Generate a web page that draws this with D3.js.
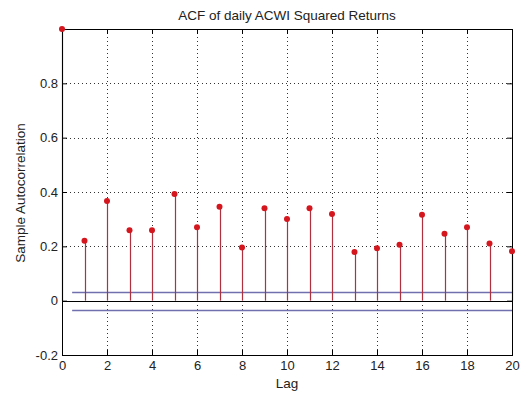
<!DOCTYPE html>
<html>
<head>
<meta charset="utf-8">
<script src="https://cdn.jsdelivr.net/npm/d3@7"></script>
<style>
  body { margin: 0; background: #fff; }
  text { font-family: "Liberation Sans", Arial, sans-serif; fill: #222; }
</style>
</head>
<body>
<script>
// ACF values, lag 0..20
const lags = d3.range(0, 21)
const acf = [1.0, 0.221, 0.367, 0.259, 0.259, 0.393, 0.27, 0.346, 0.196, 0.34, 0.301,
  0.34, 0.319, 0.179, 0.193, 0.206, 0.316, 0.246, 0.27, 0.21, 0.182]
const bound = 0.033
const xTicks = [0, 2, 4, 6, 8, 10, 12, 14, 16, 18, 20]
const yTicks = [-0.2, 0, 0.2, 0.4, 0.6, 0.8]

const fullWidth = 522
const fullHeight = 396
const margin = { top: 29, right: 10, bottom: 41, left: 62 }
const width = fullWidth - margin.left - margin.right
const height = fullHeight - margin.top - margin.bottom

const stemColor = '#b0303e'
const dotColor = '#d4161e'
const boundColor = '#7070ae'

const svg = d3.select('body').append('svg')
  .attr('width', fullWidth)
  .attr('height', fullHeight)

const g = svg.append('g')
  .attr('transform', `translate(${margin.left},${margin.top})`)

const x = d3.scaleLinear().domain([0, 20]).range([0, width])
const y = d3.scaleLinear().domain([-0.2, 1]).range([height, 0])

// grid
g.selectAll('.vgrid')
  .data(xTicks.filter(d => d > 0 && d < 20))
  .enter().append('line')
  .attr('x1', d => Math.round(x(d)) + 0.5).attr('x2', d => Math.round(x(d)) + 0.5)
  .attr('y1', 0).attr('y2', height)
  .attr('stroke', '#333').attr('stroke-width', 1).attr('stroke-dasharray', '1,3')

g.selectAll('.hgrid')
  .data(yTicks.filter(d => d > -0.2))
  .enter().append('line')
  .attr('y1', d => Math.round(y(d)) + 0.5).attr('y2', d => Math.round(y(d)) + 0.5)
  .attr('x1', 0).attr('x2', width)
  .attr('stroke', '#333').attr('stroke-width', 1).attr('stroke-dasharray', '1,3')

// zero line
g.append('line')
  .attr('x1', 0).attr('x2', width)
  .attr('y1', Math.round(y(0)) + 0.5).attr('y2', Math.round(y(0)) + 0.5)
  .attr('stroke', '#000')

// confidence bounds
;[bound, -bound].forEach(b => {
  g.append('line')
    .attr('x1', x(0.45)).attr('x2', width)
    .attr('y1', Math.round(y(b)) + 0.5).attr('y2', Math.round(y(b)) + 0.5)
    .attr('stroke', boundColor).attr('stroke-width', 1.3)
})

// stems
const data = lags.map((l, i) => ({ lag: l, v: acf[i] }))
g.selectAll('.stem')
  .data(data)
  .enter().append('line')
  .attr('x1', d => Math.round(x(d.lag)) + 0.5).attr('x2', d => Math.round(x(d.lag)) + 0.5)
  .attr('y1', y(0)).attr('y2', d => y(d.v))
  .attr('stroke', stemColor).attr('stroke-width', 1.2)

// axes box + ticks
const fmtY = d => d === 0 ? '0' : d3.format('.1f')(d).replace('\u2212', '-')
const xAxis = d3.axisBottom(x).tickValues(xTicks).tickSize(-5).tickPadding(6).tickFormat(d3.format('d'))
const yAxis = d3.axisLeft(y).tickValues(yTicks).tickSize(-5).tickPadding(4).tickFormat(fmtY)

g.append('g').attr('transform', `translate(0,${height})`).call(xAxis)
g.append('g').call(yAxis)
g.append('g').call(d3.axisTop(x).tickValues(xTicks).tickSize(-5).tickFormat(''))
  .selectAll('.tick').filter(d => d === 0 || d === 20).remove()
g.append('g').attr('transform', `translate(${width},0)`)
  .call(d3.axisRight(y).tickValues(yTicks).tickSize(-5).tickFormat(''))

svg.selectAll('.domain').attr('stroke', '#000')
svg.selectAll('.tick line').attr('stroke', '#000')
svg.selectAll('.tick text').attr('font-size', 13).attr('fill', '#222')
  .style('font-family', '"Liberation Sans", Arial, sans-serif')

g.append('rect')
  .attr('x', 0.5).attr('y', 0.5).attr('width', width).attr('height', height)
  .attr('fill', 'none').attr('stroke', '#000')

// dots
g.selectAll('.dot')
  .data(data)
  .enter().append('circle')
  .attr('cx', d => x(d.lag)).attr('cy', d => y(d.v))
  .attr('r', 3)
  .attr('fill', dotColor)

// labels
svg.append('text')
  .attr('x', margin.left + width / 2).attr('y', 20)
  .attr('text-anchor', 'middle').attr('font-size', 13.5)
  .text('ACF of daily ACWI Squared Returns')

svg.append('text')
  .attr('x', margin.left + width / 2).attr('y', 388)
  .attr('text-anchor', 'middle').attr('font-size', 13.5)
  .text('Lag')

svg.append('text')
  .attr('transform', `translate(25,${margin.top + height / 2 + 1}) rotate(-90)`)
  .attr('text-anchor', 'middle').attr('font-size', 13.5)
  .text('Sample Autocorrelation')
</script>
</body>
</html>
